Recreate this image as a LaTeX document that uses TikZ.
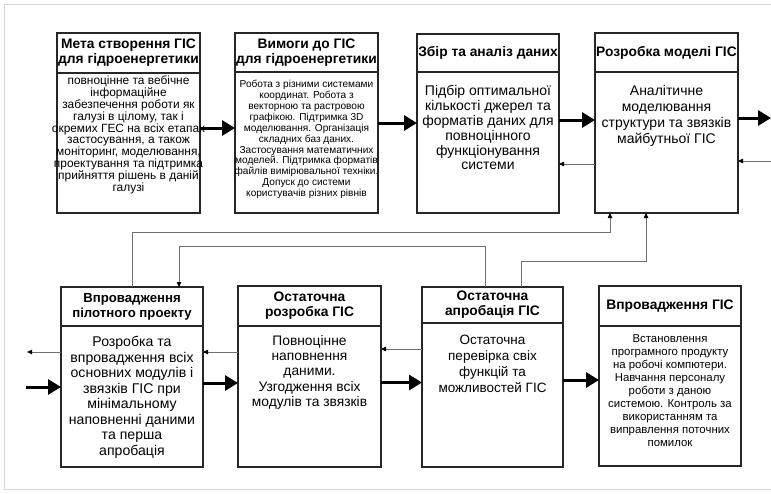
\documentclass[tikz,border=0pt]{standalone}
\usepackage{fontspec}
\setmainfont{Liberation Sans}
\usetikzlibrary{arrows.meta}
\definecolor{lgray}{RGB}{112,112,112}
\definecolor{framegray}{RGB}{215,215,215}
\tikzset{
  gbox/.style={draw=black!85, line width=1.2pt, anchor=north west, inner sep=0pt, outer sep=0pt, minimum height=180pt},
  divline/.style={draw=black!85, line width=1.2pt},
  htext/.style={font=\bfseries\fontsize{13.8}{15}\selectfont, align=center, inner sep=0pt},
  btext/.style={align=center, inner sep=0pt, anchor=north},
  bigarrow/.style={line width=3pt, -{Triangle[length=13pt,width=15pt]}},
  thinarrow/.style={draw=lgray, line width=0.8pt, -{Triangle[length=5pt,width=4.5pt,color=black]}},
}
\begin{document}
\begin{tikzpicture}[x=1pt,y=-1pt]
\useasboundingbox (0,0) rectangle (771,493);
\draw[framegray, line width=0.8pt] (4,4) rectangle (780,489);

% ---------- top row ----------
\node[gbox, minimum width=143pt] (b1) at (57,33) {};
\draw[divline] ([yshift=-40pt]b1.north west) -- ([yshift=-40pt]b1.north east);
\node[htext] (h1) at ([yshift=-20pt]b1.north) {Мета створення ГІС\\для гідроенергетики};
\node[btext, font=\fontsize{11.9}{11.8}\selectfont] (t1) at ([yshift=-43pt]b1.north)
 {повноцінне та вебічне\\інформаційне\\забезпечення роботи як\\галузі в цілому, так і\\окремих ГЕС на всіх етапах\\застосування, а також\\моніторинг, моделювання,\\проектування та підтримка\\прийняття рішень в даній\\галузі};

\node[gbox, minimum width=143pt] (b2) at (235,33) {};
\draw[divline] ([yshift=-39pt]b2.north west) -- ([yshift=-39pt]b2.north east);
\node[htext] (h2) at ([yshift=-19.5pt]b2.north) {Вимоги до ГІС\\для гідроенергетики};
\node[btext, font=\fontsize{10.1}{10.9}\selectfont] (t2) at ([yshift=-47pt]b2.north)
 {Робота з різними системами\\координат. Робота з\\векторною та растровою\\графікою. Підтримка 3D\\моделювання. Організація\\складних баз даних.\\Застосування математичних\\моделей. Підтримка форматів\\файлів вимірювальної техніки.\\Допуск до системи\\користувачів різних рівнів};

\node[gbox, minimum width=142pt, minimum height=179pt] (b3) at (417,34) {};
\draw[divline] ([yshift=-38pt]b3.north west) -- ([yshift=-38pt]b3.north east);
\node[htext] (h3) at ([yshift=-19pt]b3.north) {Збір та аналіз даних};
\node[btext, font=\fontsize{14}{14.9}\selectfont] (t3) at ([yshift=-51pt]b3.north)
 {Підбір оптимальної\\кількості джерел та\\форматів даних для\\повноцінного\\функціонування\\системи};

\node[gbox, minimum width=143pt] (b4) at (595,33) {};
\draw[divline] ([yshift=-39pt]b4.north west) -- ([yshift=-39pt]b4.north east);
\node[htext] (h4) at ([yshift=-19.5pt]b4.north) {Розробка моделі ГІС};
\node[btext, font=\fontsize{14}{16}\selectfont] (t4) at ([yshift=-52pt]b4.north)
 {Аналітичне\\моделювання\\структури та звязків\\майбутньої ГІС};

% ---------- bottom row ----------
\node[gbox, minimum width=142pt] (b5) at (61,287) {};
\draw[divline] ([yshift=-39pt]b5.north west) -- ([yshift=-39pt]b5.north east);
\node[htext, font=\bfseries\fontsize{13.2}{15}\selectfont] (h5) at ([yshift=-19.5pt]b5.north) {Впровадження\\пілотного проекту};
\node[btext, font=\fontsize{14.1}{15.5}\selectfont] (t5) at ([yshift=-49pt]b5.north)
 {Розробка та\\впровадження всіх\\основних модулів і\\звязків ГІС при\\мінімальному\\наповненні даними\\та перша\\апробація};

\node[gbox, minimum width=143pt, minimum height=181pt] (b6) at (238,286) {};
\draw[divline] ([yshift=-40pt]b6.north west) -- ([yshift=-40pt]b6.north east);
\node[htext] (h6) at ([yshift=-20pt]b6.north) {Остаточна\\розробка ГІС};
\node[btext, font=\fontsize{13.8}{15.3}\selectfont] (t6) at ([yshift=-49pt]b6.north)
 {Повноцінне\\наповнення\\даними.\\Узгодження всіх\\модулів та звязків};

\node[gbox, minimum width=141pt] (b7) at (422,287) {};
\draw[divline] ([yshift=-36pt]b7.north west) -- ([yshift=-36pt]b7.north east);
\node[htext] (h7) at ([yshift=-18pt]b7.north) {Остаточна\\апробація ГІС};
\node[btext, font=\fontsize{13.5}{15.9}\selectfont] (t7) at ([yshift=-48pt]b7.north)
 {Остаточна\\перевірка свіх\\функцій та\\можливостей ГІС};

\node[gbox, minimum width=142pt] (b8) at (599,286) {};
\draw[divline] ([yshift=-40pt]b8.north west) -- ([yshift=-40pt]b8.north east);
\node[htext] (h8) at ([yshift=-20pt]b8.north) {Впровадження ГІС};
\node[btext, font=\fontsize{11.4}{13.1}\selectfont] (t8) at ([yshift=-48pt]b8.north)
 {Встановлення\\програмного продукту\\на робочі компютери.\\Навчання персоналу\\роботи з даною\\системою. Контроль за\\використанням та\\виправлення поточних\\помилок};

% ---------- free ends and corners ----------
\coordinate (outR) at (771,118);
\coordinate (inR) at (771,161);
\coordinate (inL) at (26,387);
\coordinate (outL) at (27,352);
\coordinate (k1) at (132,232);
\coordinate (k2) at (610,232);
\coordinate (k3) at (485,246);
\coordinate (k4) at (179,246);
\coordinate (k5) at (521,261);
\coordinate (k6) at (646,261);

% ---------- thick flow arrows ----------
\draw[bigarrow] ([yshift=-5pt]b1.east) -- ([yshift=-5pt]b2.west);
\draw[bigarrow] (b2.east) -- (b3.west |- b2.east);
\draw[bigarrow] ([yshift=3.5pt]b3.east) -- ([yshift=3.5pt]b3.east -| b4.west);
\draw[bigarrow] ([yshift=5pt]b4.east) -- (outR);
\draw[bigarrow] (inL) -- (b5.west |- inL);
\draw[bigarrow] ([yshift=-6pt]b5.east) -- ([yshift=-6pt]b5.east -| b6.west);
\draw[bigarrow] ([yshift=-6pt]b6.east) -- ([yshift=-6pt]b6.east -| b7.west);
\draw[bigarrow] ([yshift=-3pt]b7.east) -- ([yshift=-3pt]b7.east -| b8.west);

% ---------- thin feedback arrows ----------
\draw[thinarrow] ([yshift=-41pt]b4.west) -- ([yshift=-41pt]b4.west -| b3.east);
\draw[thinarrow] (inR) -- (b4.east |- inR);
\draw[thinarrow] (b5.west |- outL) -- (outL);
\draw[thinarrow] (b6.west |- outL) -- (b5.east |- outL);
\draw[thinarrow] ([yshift=28pt]b7.west) -- ([yshift=28pt]b7.west -| b6.east);
\draw[thinarrow] (b5.north -| k1) -- (k1) -- (k2) -- (b4.south -| k2);
\draw[thinarrow] (b7.north -| k3) -- (k3) -- (k4) -- (b5.north -| k4);
\draw[thinarrow] (b7.north -| k5) -- (k5) -- (k6) -- (b4.south -| k6);
\end{tikzpicture}
\end{document}
